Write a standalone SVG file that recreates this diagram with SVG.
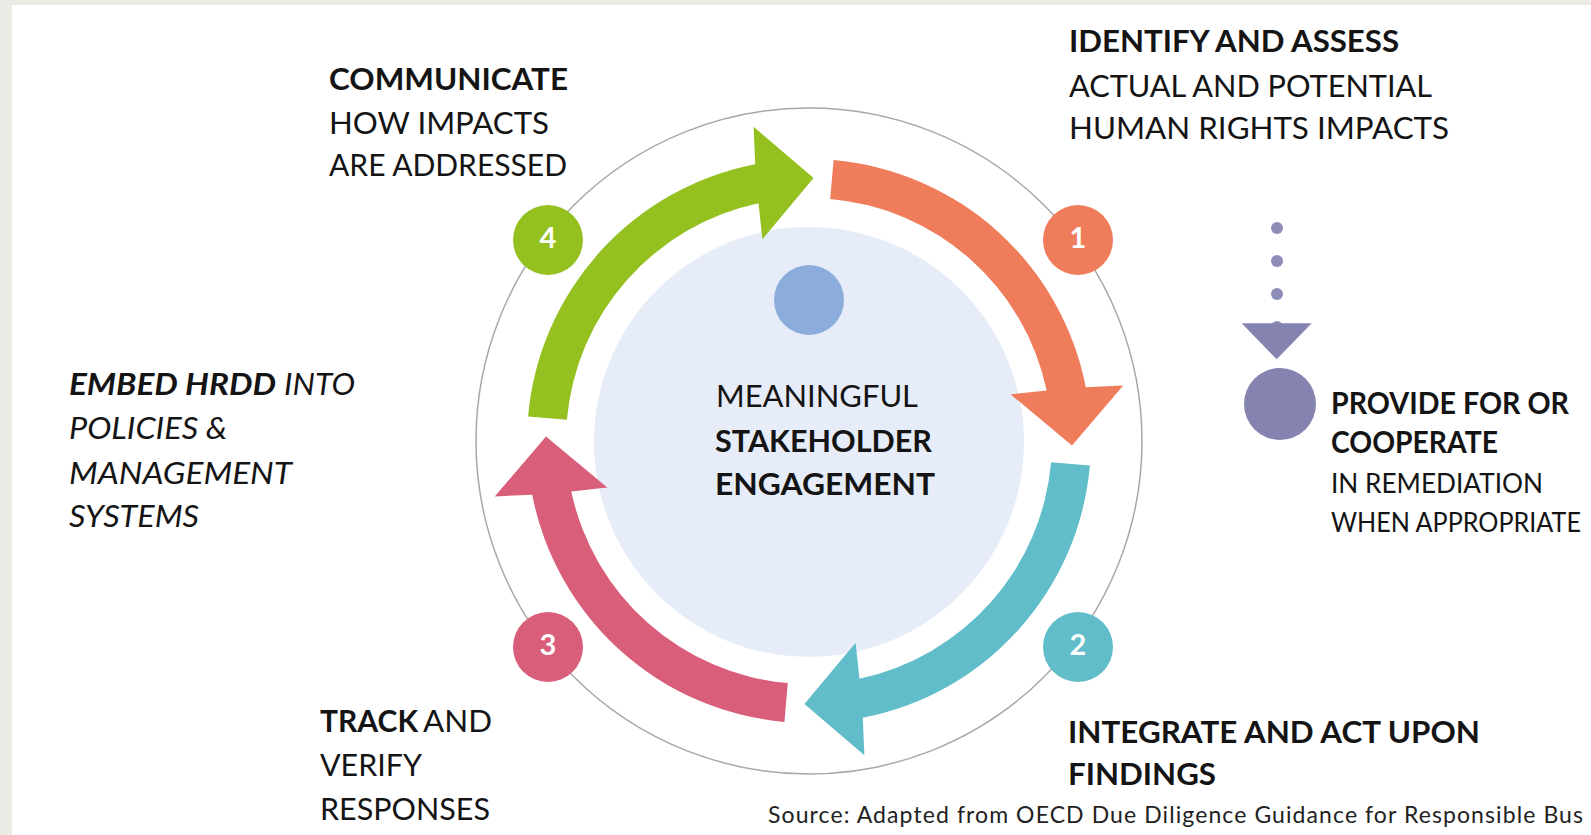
<svg xmlns="http://www.w3.org/2000/svg" width="1591" height="835" viewBox="0 0 1591 835">
<style>
text { font-family: Lato, "Open Sans", "Liberation Sans", sans-serif; fill: #141414; font-size: 30px; }
.b { font-weight: 700; }
.i { font-style: italic; }
.num { font-size: 29px; font-weight: 700; fill: #ffffff; text-anchor: middle; }
.dot { fill: #8E8DBA; }
.purple { fill: #8583B0; }
.cond { font-size: 26px; }
.src { font-size: 23px; fill: #222222; }
</style>
<defs>
<path id="arrow" d="M 833.6 160.1 A 282 282 0 0 1 1085.8 387.2 L 1123.2 385.6 L 1072.0 445.6 L 1010.7 394.4 L 1046.7 390.5 A 243 243 0 0 0 830.2 198.9 Z"/>
</defs>
<rect width="1591" height="835" fill="#EBEAE5"/>
<rect x="12" y="5" width="1579" height="830" fill="#FFFFFF"/>

<g id="cycle-ring">
<circle cx="809" cy="441" r="333" fill="none" stroke="#A8A8A8" stroke-width="1.5"/>
</g>

<g id="center">
<circle cx="809" cy="442" r="215" fill="#E6EDF8"/>
<circle cx="809" cy="300" r="35" fill="#8CADDB"/>
<text x="716" y="406.7" textLength="202" lengthAdjust="spacingAndGlyphs">MEANINGFUL</text>
<text class="b" x="715" y="451.7" textLength="217" lengthAdjust="spacingAndGlyphs">STAKEHOLDER</text>
<text class="b" x="715" y="495" textLength="220" lengthAdjust="spacingAndGlyphs">ENGAGEMENT</text>
</g>

<g id="connectors">
<use href="#arrow" fill="#EF7C5B"/>
<use href="#arrow" fill="#62BDCA" transform="rotate(90 809 441)"/>
<use href="#arrow" fill="#D95E7A" transform="rotate(180 809 441)"/>
<use href="#arrow" fill="#94C11F" transform="rotate(270 809 441)"/>
</g>

<g id="step1-identify">
<circle cx="1078" cy="240" r="35" fill="#EF7C5B"/>
<text class="num" x="1078" y="248">1</text>
<text class="b" x="1069" y="52" textLength="330" lengthAdjust="spacingAndGlyphs">IDENTIFY AND ASSESS</text>
<text x="1069" y="96.5" textLength="363" lengthAdjust="spacingAndGlyphs">ACTUAL AND POTENTIAL</text>
<text x="1069" y="139" textLength="380" lengthAdjust="spacingAndGlyphs">HUMAN RIGHTS IMPACTS</text>
</g>

<g id="step2-integrate">
<circle cx="1078" cy="647" r="35" fill="#62BDCA"/>
<text class="num" x="1078" y="655">2</text>
<text class="b" x="1068" y="743" textLength="412" lengthAdjust="spacingAndGlyphs">INTEGRATE AND ACT UPON</text>
<text class="b" x="1068" y="785" textLength="148" lengthAdjust="spacingAndGlyphs">FINDINGS</text>
</g>

<g id="step3-track">
<circle cx="548" cy="647" r="35" fill="#D95E7A"/>
<text class="num" x="548" y="655">3</text>
<text class="b" x="320" y="731.7" textLength="98" lengthAdjust="spacingAndGlyphs">TRACK</text>
<text x="423" y="731.7" textLength="69" lengthAdjust="spacingAndGlyphs">AND</text>
<text x="320" y="776" textLength="102" lengthAdjust="spacingAndGlyphs">VERIFY</text>
<text x="320" y="820" textLength="170" lengthAdjust="spacingAndGlyphs">RESPONSES</text>
</g>

<g id="step4-communicate">
<circle cx="548" cy="240" r="35" fill="#94C11F"/>
<text class="num" x="548" y="248">4</text>
<text class="b" x="329" y="90" textLength="239" lengthAdjust="spacingAndGlyphs">COMMUNICATE</text>
<text x="329" y="134" textLength="220" lengthAdjust="spacingAndGlyphs">HOW IMPACTS</text>
<text x="329" y="176" textLength="238" lengthAdjust="spacingAndGlyphs">ARE ADDRESSED</text>
</g>

<g id="embed">
<text class="b i" x="69" y="395" textLength="207" lengthAdjust="spacingAndGlyphs">EMBED HRDD</text>
<text class="i" x="284" y="395" textLength="71" lengthAdjust="spacingAndGlyphs">INTO</text>
<text class="i" x="69" y="439" textLength="158" lengthAdjust="spacingAndGlyphs">POLICIES &amp;</text>
<text class="i" x="69" y="484" textLength="223" lengthAdjust="spacingAndGlyphs">MANAGEMENT</text>
<text class="i" x="69" y="527" textLength="130" lengthAdjust="spacingAndGlyphs">SYSTEMS</text>
</g>

<g id="remediation">
<circle class="dot" cx="1277" cy="228" r="6"/>
<circle class="dot" cx="1277" cy="261" r="6"/>
<circle class="dot" cx="1277" cy="294" r="6"/>
<circle class="dot" cx="1277" cy="327" r="6"/>
<polygon class="purple" points="1241.7,323.3 1311.7,323.3 1276.7,359.3"/>
<circle class="purple" cx="1280" cy="404" r="36"/>
<text class="b" x="1331" y="414" textLength="238" lengthAdjust="spacingAndGlyphs">PROVIDE FOR OR</text>
<text class="b" x="1331" y="453" textLength="167" lengthAdjust="spacingAndGlyphs">COOPERATE</text>
<text class="cond" x="1331" y="493" textLength="212" lengthAdjust="spacingAndGlyphs">IN REMEDIATION</text>
<text class="cond" x="1331" y="532" textLength="250" lengthAdjust="spacingAndGlyphs">WHEN APPROPRIATE</text>
</g>

<g id="source">
<text class="src" x="768" y="823" textLength="815" lengthAdjust="spacing">Source: Adapted from OECD Due Diligence Guidance for Responsible Bus</text>
</g>
</svg>
